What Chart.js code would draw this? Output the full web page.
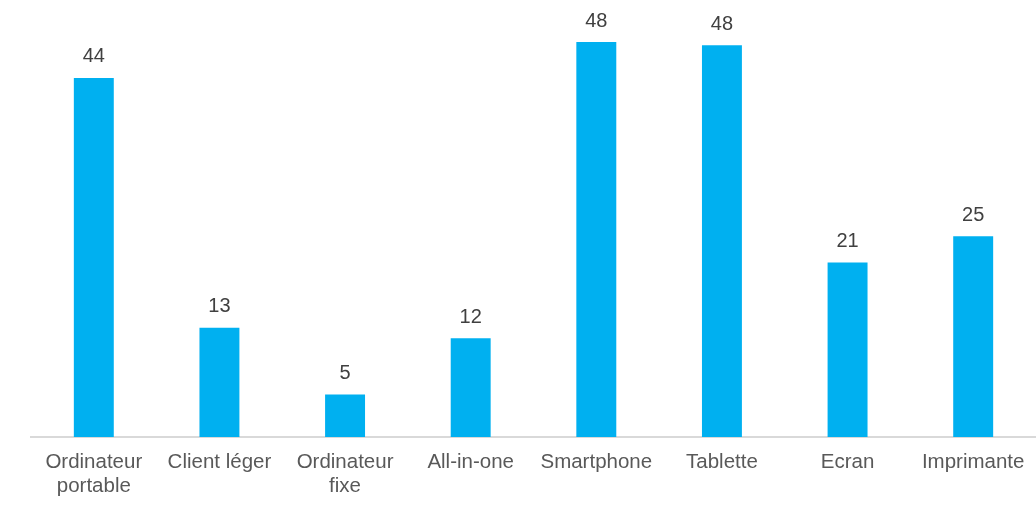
<!DOCTYPE html>
<html>
<head>
<meta charset="utf-8">
<script src="https://cdn.jsdelivr.net/npm/chart.js@4/dist/chart.umd.min.js"></script>
<style>
  html, body { margin: 0; padding: 0; background: #ffffff; }
  #wrap { width: 1036px; height: 506px; position: relative; }
</style>
</head>
<body>
<div id="wrap"><canvas id="c" width="1036" height="506"></canvas></div>
<script>
const categories = [
  ['Ordinateur', 'portable'],
  'Client léger',
  ['Ordinateur', 'fixe'],
  'All-in-one',
  'Smartphone',
  'Tablette',
  'Ecran',
  'Imprimante'
];
const values = [44, 13.4, 5.2, 12.1, 48.4, 48.0, 21.4, 24.6];
const valueLabels = ['44', '13', '5', '12', '48', '48', '21', '25'];

const FONT = "'Liberation Sans', Arial, sans-serif";

const valueLabelPlugin = {
  id: 'valueLabels',
  afterDatasetsDraw(chart) {
    const ctx = chart.ctx;
    const meta = chart.getDatasetMeta(0);
    ctx.save();
    ctx.font = '20px ' + FONT;
    ctx.fillStyle = '#404040';
    ctx.textAlign = 'center';
    ctx.textBaseline = 'middle';
    meta.data.forEach((bar, i) => {
      ctx.fillText(valueLabels[i], bar.x, bar.y - 21);
    });
    ctx.restore();
  }
};

new Chart(document.getElementById('c'), {
  type: 'bar',
  data: {
    labels: categories,
    datasets: [{
      data: values,
      backgroundColor: '#00B0F0',
      borderWidth: 0,
      barPercentage: 0.318,
      categoryPercentage: 1.0
    }]
  },
  options: {
    responsive: false,
    animation: false,
    devicePixelRatio: 1,
    layout: { padding: { left: 31, right: 0, top: 29, bottom: 0 } },
    plugins: {
      legend: { display: false },
      tooltip: { enabled: false }
    },
    scales: {
      x: {
        grid: { display: false, drawTicks: false },
        border: { display: true, color: '#d9d9d9', width: 2 },
        ticks: {
          color: '#595959',
          font: { family: FONT, size: 20.5, lineHeight: 1.14 },
          padding: 14,
          maxRotation: 0,
          autoSkip: false
        },
        afterFit(scale) {
          scale.height = 69;
          scale.paddingLeft = 0;
          scale.paddingRight = 0;
        }
      },
      y: {
        display: false,
        min: 0,
        max: 50
      }
    }
  },
  plugins: [valueLabelPlugin]
});
</script>
</body>
</html>
